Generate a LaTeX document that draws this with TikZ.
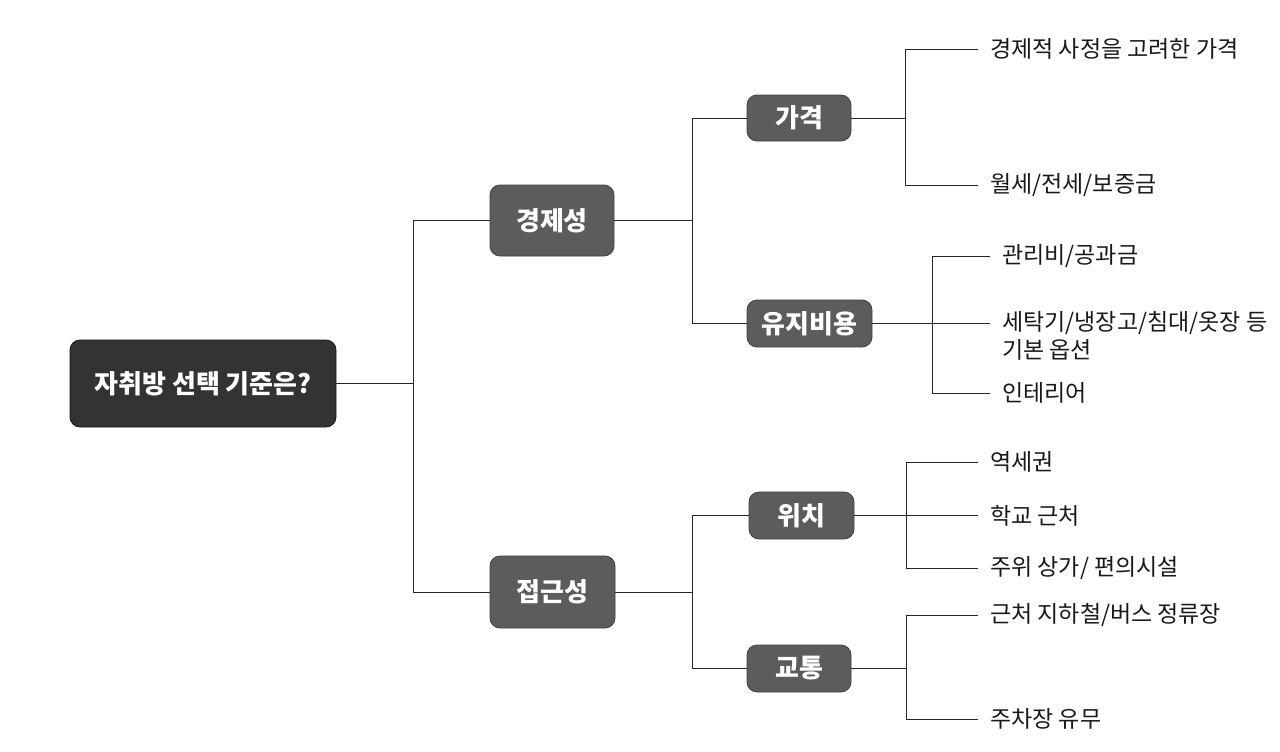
\documentclass[tikz,border=0pt]{standalone}
\usepackage{fontspec}
\setmainfont{Noto Sans CJK KR}
\begin{document}
\begin{tikzpicture}[x=1pt,y=-1pt,
  rootbox/.style={draw=black!90, fill=black!80, rounded corners=10pt, line width=0.8pt,
    minimum width=266pt, minimum height=87pt, inner sep=0pt, text=white,
    font=\fontsize{26}{30}\selectfont\bfseries},
  midbox/.style={draw=black!75, fill=black!64, rounded corners=10pt, line width=0.8pt,
    inner sep=0pt, text=white, font=\fontsize{26}{30}\selectfont\bfseries},
  leaf/.style={anchor=west, inner xsep=12pt, inner ysep=0pt, text=black!90,
    font=\fontsize{23}{28}\selectfont, align=left},
  conn/.style={draw=black!85, line width=0.9pt}
]
\useasboundingbox (0,0) rectangle (1280,752);
\fill[white] (0,0) rectangle (1280,752);

\node[rootbox] (root) at (203,383.5) {자취방 선택 기준은?};

\node[midbox, minimum width=124pt, minimum height=71pt] (econ) at (552,220.5) {경제성};
\node[midbox, minimum width=125pt, minimum height=72pt] (access) at (552.5,592) {접근성};

\node[midbox, minimum width=104pt, minimum height=46pt] (price) at (799,118) {가격};
\node[midbox, minimum width=125pt, minimum height=47pt] (upkeep) at (809.5,323.5) {유지비용};
\node[midbox, minimum width=105pt, minimum height=47pt] (loc) at (801.5,515.5) {위치};
\node[midbox, minimum width=104pt, minimum height=47pt] (traffic) at (799,668.5) {교통};

% leaves
\node[leaf] (l1) at (978,49) {경제적 사정을 고려한 가격};
\node[leaf] (l2) at (978,185) {월세/전세/보증금};
\node[leaf] (l3) at (990,256) {관리비/공과금};
\node[leaf, anchor=north west] (l4) at (990,311) {세탁기/냉장고/침대/옷장 등\\기본 옵션};
\node[leaf] (l5) at (990,393) {인테리어};
\node[leaf] (l6) at (978,462) {역세권};
\node[leaf] (l7) at (978,515.5) {학교 근처};
\node[leaf] (l8) at (978,568) {주위 상가/ 편의시설};
\node[leaf] (l9) at (978,615) {근처 지하철/버스 정류장};
\node[leaf] (l10) at (978,719) {주차장 유무};

% junctions
\coordinate (j0) at (413,383.5);
\coordinate (j1) at (692,220.5);
\coordinate (j2) at (692,592);
\coordinate (j3) at (905.5,118);
\coordinate (j4) at (932,323.5);
\coordinate (j5) at (906,515.5);
\coordinate (j6) at (906,668.5);

\draw[conn] (root.east) -- (j0);
\draw[conn] (j0) |- (econ.west);
\draw[conn] (j0) |- (access.west);

\draw[conn] (econ.east) -- (j1);
\draw[conn] (j1) |- (price.west);
\draw[conn] (j1) |- (upkeep.west);

\draw[conn] (access.east) -- (j2);
\draw[conn] (j2) |- (loc.west);
\draw[conn] (j2) |- (traffic.west);

\draw[conn] (price.east) -- (j3);
\draw[conn] (j3) |- (l1.west);
\draw[conn] (j3) |- (l2.west);

\draw[conn] (upkeep.east) -- (l4.west |- upkeep.east);
\draw[conn] (j4) |- (l3.west);
\draw[conn] (j4) |- (l5.west);

\draw[conn] (loc.east) -- (l7.west |- loc.east);
\draw[conn] (j5) |- (l6.west);
\draw[conn] (j5) |- (l8.west);

\draw[conn] (traffic.east) -- (j6);
\draw[conn] (j6) |- (l9.west);
\draw[conn] (j6) |- (l10.west);
\end{tikzpicture}
\end{document}
